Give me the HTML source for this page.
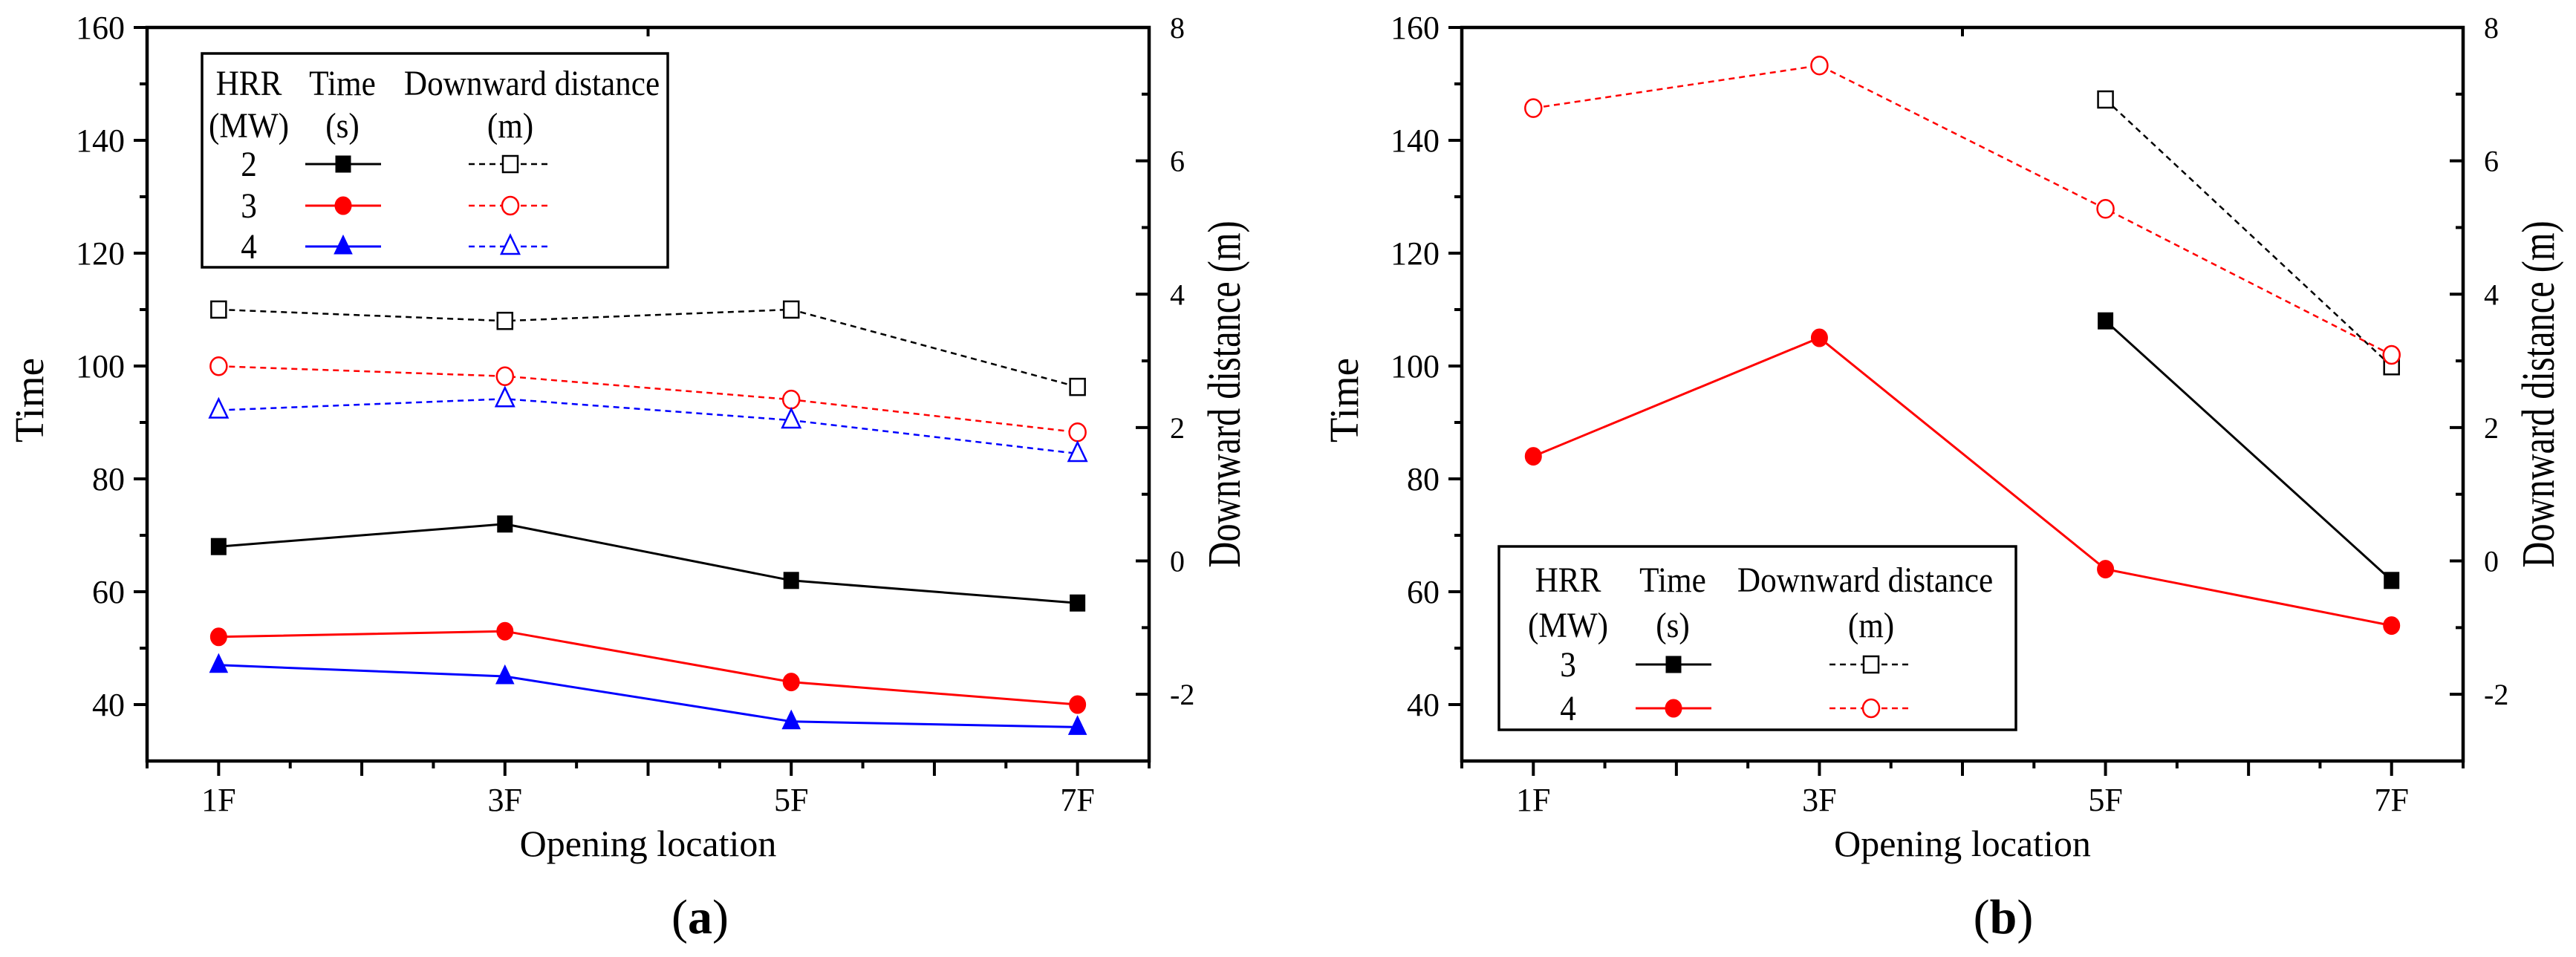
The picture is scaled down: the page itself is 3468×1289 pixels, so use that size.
<!DOCTYPE html>
<html><head><meta charset="utf-8"><style>
html,body{margin:0;padding:0;background:#fff;}
svg{display:block;font-family:"Liberation Serif",serif;}
</style></head><body>
<svg id="fig" width="3468" height="1289" viewBox="0 0 3468 1289" xmlns="http://www.w3.org/2000/svg"></svg>
<script>
const categories = ["1F","","3F","","5F","","7F"];
const dataIdx = [0,2,4,6];
// Chart (a)
const aTime2 = [68,72,62,58];
const aTime3 = [52,53,44,40];
const aTime4 = [47,45,37,36];
const aDist2 = [3.77,3.6,3.77,2.61];
const aDist3 = [2.92,2.77,2.42,1.93];
const aDist4 = [2.26,2.43,2.11,1.61];
// Chart (b)
const bTime3 = [null,null,108,62];
const bTime4 = [84,105,64,54];
const bDist3 = [null,null,6.92,2.92];
const bDist4 = [6.79,7.43,5.28,3.09];
const leftTicks = [40,60,80,100,120,140,160];
const rightTicks = [-2,0,2,4,6,8];

const NS="http://www.w3.org/2000/svg";
const svg=document.getElementById('fig');
function el(tag,attrs,parent){const e=document.createElementNS(NS,tag);for(const k in attrs)e.setAttribute(k,attrs[k]);(parent||svg).appendChild(e);return e;}
function txt(s,attrs,parent){const e=el('text',attrs,parent);e.textContent=s;return e;}
function ctxt(s,x,y,size,anchor,parent){const e=el('text',{x:0,y:0,'font-size':size,'text-anchor':anchor||'middle',transform:`translate(${x},${y}) scale(0.9,1)`},parent);e.textContent=s;return e;}

function marker(g,type,x,y,color,filled){
  let m;
  if(type==='sq'){m=el('rect',{x:x-10,y:y-11,width:20,height:22,fill:filled?color:'#fff',stroke:color,'stroke-width':filled?1:2.5},g);}
  else if(type==='ci'){m=el('ellipse',{cx:x,cy:y,rx:11,ry:12,fill:filled?color:'#fff',stroke:color,'stroke-width':filled?1:2.5},g);}
  else {m=el('polygon',{points:`${x},${y-15} ${x-12},${y+10} ${x+12},${y+10}`,fill:filled?color:'#fff',stroke:color,'stroke-width':filled?1:2.5},g);}
  return m;
}

function chart(id,L,R,series,legend,label){
  const T=37,B=1025;
  const g=el('g',{});
  
  
  const xs=i=>L+(i+0.5)*(R-L)/7;
  const yl=v=>B-(v-30)*(B-T)/130;
  const yr=v=>B-(v+3)*(B-T)/11;
  const fr=el('rect',{x:L,y:T,width:R-L,height:B-T,fill:'none',stroke:'#000','stroke-width':4.5},g);
  
  
  for(let v=40;v<=160;v+=10){const major=leftTicks.includes(v);el('line',{x1:L-(major?18:10),x2:L,y1:yl(v),y2:yl(v),stroke:'#000','stroke-width':4},g);}
  leftTicks.forEach(v=>{const t=txt(String(v),{x:L-30,y:yl(v)+15,'font-size':44,'text-anchor':'end'},g);});
  for(let v=-3;v<=8;v+=1){const major=rightTicks.includes(v);el('line',{x1:R-(major?18:10),x2:R,y1:yr(v),y2:yr(v),stroke:'#000','stroke-width':4},g);}
  rightTicks.forEach(v=>{const t=txt(String(v),{x:R+28,y:yr(v)+14,'font-size':40},g);});
  for(let k=-1;k<=13;k++){const v=k/2;const major=(k%2===0);el('line',{x1:xs(v),x2:xs(v),y1:B,y2:B+(major?20:10),stroke:'#000','stroke-width':4},g);}
  el('line',{x1:xs(3),x2:xs(3),y1:T,y2:T+12,stroke:'#000','stroke-width':4},g);
  categories.forEach((c,i)=>{if(!c)return;const t=txt(c,{x:xs(i),y:1092,'font-size':44,'text-anchor':'middle'},g);});
  let t=txt('Opening location',{x:(L+R)/2,y:1153,'font-size':50,'text-anchor':'middle'},g);
  
  t=txt('Time',{x:0,y:0,'font-size':55,'text-anchor':'middle',transform:`translate(${L-140},${(T+B)/2+8}) rotate(-90)`},g);
  
  t=txt('Downward distance (m)',{x:0,y:0,'font-size':62,'text-anchor':'middle',transform:`translate(${R+122},${(T+B)/2}) rotate(-90) scale(0.78,1)`},g);
  
  const lab=el('text',{x:(L+R)/2+(id==='a'?70:55),y:1257,'font-size':66,'text-anchor':'middle'},g);
  
  lab.innerHTML='(<tspan font-weight="bold">'+label+'</tspan>)';
  series.forEach(s=>{
    const sg=el('g',{},g);
    
    
    const pts=[];
    s.vals.forEach((v,i)=>{if(v===null)return;pts.push([xs(dataIdx[i]),s.axis==='l'?yl(v):yr(v)]);});
    const pl=el('polyline',{points:pts.map(p=>p.join(',')).join(' '),fill:'none',stroke:s.color,'stroke-width':s.dash?2.5:3,'stroke-dasharray':s.dash?'8,6':'none'},sg);
    
    
    pts.forEach(p=>{const m=marker(sg,s.m,p[0],p[1],s.color,!s.dash);});
  });
  const lg=el('g',{},g);
  
  
  el('rect',{x:legend.x,y:legend.y,width:legend.w,height:legend.h,fill:'#fff',stroke:'#000','stroke-width':3.5},lg);
  const c=legend.cols;
  ctxt('HRR',c[0],legend.r[0],48,'middle',lg);
  ctxt('(MW)',c[0],legend.r[1],48,'middle',lg);
  ctxt('Time',c[1],legend.r[0],48,'middle',lg);
  ctxt('(s)',c[1],legend.r[1],48,'middle',lg);
  ctxt('Downward distance',c[2],legend.r[0],48,'middle',lg);
  ctxt('(m)',c[3],legend.r[1],48,'middle',lg);
  legend.rows.forEach((r,k)=>{
    const y=legend.r[2+k];
    const e=el('g',{},lg);
    
    
    ctxt(r.hrr,c[0],y+16,48,'middle',e);
    el('line',{x1:c[1]-50,x2:c[1]+52,y1:y,y2:y,stroke:r.color,'stroke-width':3},e);
    marker(e,r.m,c[1]+1,y,r.color,true);
    el('line',{x1:c[3]-56,x2:c[3]+56,y1:y,y2:y,stroke:r.color,'stroke-width':2.5,'stroke-dasharray':'8,6'},e);
    marker(e,r.m,c[3],y,r.color,false);
  });
}

chart('a',198,1547,[
  {name:'time-hrr2',vals:aTime2,axis:'l',color:'#000',m:'sq'},
  {name:'time-hrr3',vals:aTime3,axis:'l',color:'#f00',m:'ci'},
  {name:'time-hrr4',vals:aTime4,axis:'l',color:'#00f',m:'tr'},
  {name:'dist-hrr2',vals:aDist2,axis:'r',color:'#000',m:'sq',dash:true},
  {name:'dist-hrr3',vals:aDist3,axis:'r',color:'#f00',m:'ci',dash:true},
  {name:'dist-hrr4',vals:aDist4,axis:'r',color:'#00f',m:'tr',dash:true}
],{x:272,y:72,w:627,h:288,cols:[335,461,716,687],r:[128,185,221,277,332],
  rows:[{hrr:'2',color:'#000',m:'sq'},{hrr:'3',color:'#f00',m:'ci'},{hrr:'4',color:'#00f',m:'tr'}]},'a');

chart('b',1968,3316,[
  {name:'time-hrr3',vals:bTime3,axis:'l',color:'#000',m:'sq'},
  {name:'time-hrr4',vals:bTime4,axis:'l',color:'#f00',m:'ci'},
  {name:'dist-hrr3',vals:bDist3,axis:'r',color:'#000',m:'sq',dash:true},
  {name:'dist-hrr4',vals:bDist4,axis:'r',color:'#f00',m:'ci',dash:true}
],{x:2018,y:736,w:696,h:247,cols:[2111,2252,2511,2519],r:[797,858,895,954],
  rows:[{hrr:'3',color:'#000',m:'sq'},{hrr:'4',color:'#f00',m:'ci'}]},'b');
</script>
</body></html>
